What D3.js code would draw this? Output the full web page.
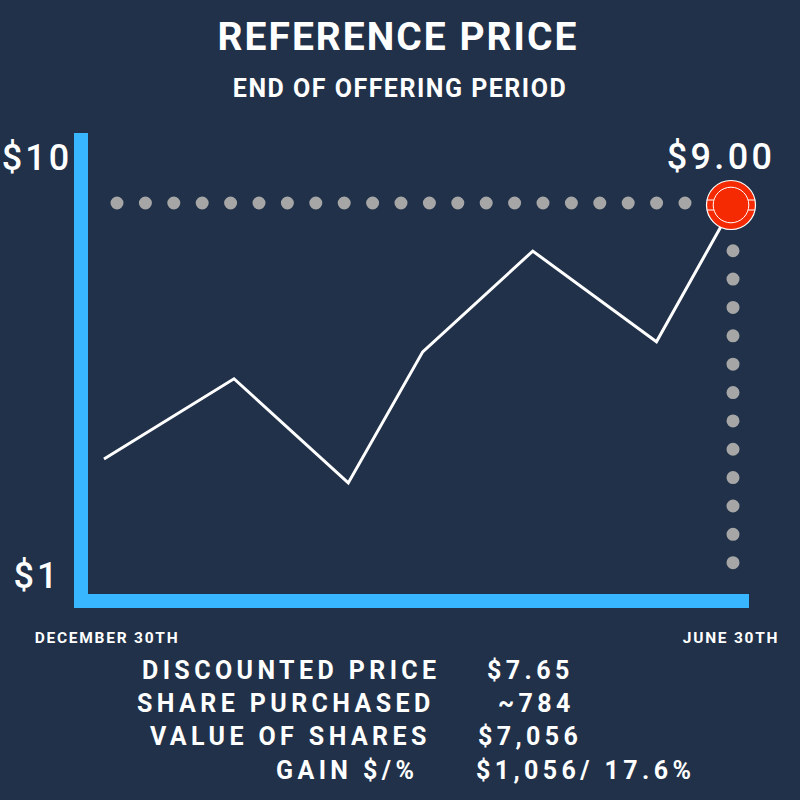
<!DOCTYPE html>
<html>
<head>
<meta charset="utf-8">
<script src="https://cdn.jsdelivr.net/npm/d3@7"></script>
<style>
  html, body { margin: 0; padding: 0; background: #203149; }
  svg { display: block; }
  text { font-family: Roboto, "Noto Sans", sans-serif; fill: #ffffff; }
</style>
</head>
<body>
<script>
// ---- Data ----
const title = "REFERENCE PRICE";
const subtitle = "END OF OFFERING PERIOD";
const monthsSinceStart = [0, 1.24, 2.33, 3.04, 4.09, 5.27, 6.0];
const prices = [3.71, 5.38, 3.21, 5.94, 8.04, 6.15, 9.0];
const xTickValues = [0, 6];
const xTickLabels = ["DECEMBER 30TH", "JUNE 30TH"];
const yTickValues = [10, 1];
const yTickLabels = ["$10", "$1"];
const endLabel = "$9.00";
const summaryLabels = ["DISCOUNTED PRICE", "SHARE PURCHASED", "VALUE OF SHARES", "GAIN $/%"];
const summaryValues = ["$7.65", "~784", "$7,056", "$1,056/ 17.6%"];

// ---- Layout / style ----
const W = 800, H = 800;
const bg = "#203149", blue = "#38b6ff", red = "#f52a02", dotGray = "#a6a6a6";

const svg = d3.select("body").append("svg").attr("width", W).attr("height", H);
svg.append("rect").attr("width", W).attr("height", H).attr("fill", bg);

const x = d3.scaleLinear().domain([0, 6]).range([104, 733]);
const y = d3.scaleLinear().domain([1, 10]).range([589, 157]);

// Titles
svg.append("text").attr("x", 398).attr("y", 50).attr("text-anchor", "middle")
  .style("font-size", "39px").style("font-weight", 700).style("letter-spacing", "2px")
  .text(title);
svg.append("text").attr("x", 400).attr("y", 97).attr("text-anchor", "middle")
  .style("font-size", "25px").style("font-weight", 700).style("letter-spacing", "1.5px")
  .text(subtitle);

// Axis bars
const axisLeft = 74, axisW = 14, axisBottom = 608;
svg.append("rect").attr("x", axisLeft).attr("y", y(10) - 24)
  .attr("width", axisW).attr("height", axisBottom - (y(10) - 24)).attr("fill", blue);
svg.append("rect").attr("x", axisLeft).attr("y", axisBottom - axisW)
  .attr("width", 749 - axisLeft).attr("height", axisW).attr("fill", blue);

// Y labels
const yOffsets = [13, -1.5];
svg.selectAll(".ylab").data(yTickValues).join("text").attr("class", "ylab")
  .attr("x", 37).attr("y", (d, i) => y(d) + yOffsets[i]).attr("text-anchor", "middle")
  .style("font-size", "36px").style("font-weight", 500).style("letter-spacing", "3px")
  .text((d, i) => yTickLabels[i]);

// X labels
const xOffsets = [3, -2];
svg.selectAll(".xlab").data(xTickValues).join("text").attr("class", "xlab")
  .attr("x", (d, i) => x(d) + xOffsets[i]).attr("y", 642.5).attr("text-anchor", "middle")
  .style("font-size", "15.5px").style("font-weight", 700).style("letter-spacing", "1.75px")
  .text((d, i) => xTickLabels[i]);

// Dotted guide lines
const lastI = prices.length - 1;
const ex = x(monthsSinceStart[lastI]), ey = y(prices[lastI]);
svg.append("line").attr("x1", 117).attr("x2", ex).attr("y1", ey - 2).attr("y2", ey - 2)
  .attr("stroke", dotGray).attr("stroke-width", 13).attr("stroke-linecap", "round")
  .attr("stroke-dasharray", "0 28.4");
svg.append("line").attr("x1", ex).attr("x2", ex).attr("y1", 562.7).attr("y2", ey)
  .attr("stroke", dotGray).attr("stroke-width", 13).attr("stroke-linecap", "round")
  .attr("stroke-dasharray", "0 28.36");

// Price line
const line = d3.line().x((d, i) => x(monthsSinceStart[i])).y(d => y(d));
svg.append("path").datum(prices).attr("d", line)
  .attr("fill", "none").attr("stroke", "#ffffff").attr("stroke-width", 3)
  .attr("stroke-linejoin", "miter");

// End marker (chip)
const cx = ex - 2, cy = ey;
const chip = svg.append("g").attr("transform", `translate(${cx},${cy})`);
chip.append("circle").attr("r", 24.5).attr("fill", red).attr("stroke", "#ffffff").attr("stroke-width", 1.2);
chip.append("circle").attr("r", 17.8).attr("fill", red).attr("stroke", "#ffffff").attr("stroke-width", 1);
[-1, 1].forEach(s => {
  [-5, 5].forEach(dy => {
    const xo = Math.sqrt(24.5 * 24.5 - dy * dy), xi = Math.sqrt(17.8 * 17.8 - dy * dy);
    chip.append("line").attr("x1", s * xi).attr("x2", s * xo).attr("y1", dy).attr("y2", dy)
      .attr("stroke", "#ffffff").attr("stroke-width", 1);
  });
});

// End value label
svg.append("text").attr("x", 721).attr("y", 169).attr("text-anchor", "middle")
  .style("font-size", "36px").style("font-weight", 500).style("letter-spacing", "3.3px")
  .text(endLabel);

// Summary table
const labelX = [142, 137, 150, 276];
const valueX = [487, 498, 478, 476];
const rowY = [678.5, 712, 745, 778.5];
summaryLabels.forEach((t, i) => {
  svg.append("text").attr("x", labelX[i]).attr("y", rowY[i])
    .style("font-size", "25px").style("font-weight", 700).style("letter-spacing", "4.4px").text(t);
  svg.append("text").attr("x", valueX[i]).attr("y", rowY[i])
    .style("font-size", "25px").style("font-weight", 700).style("letter-spacing", "4.4px").text(summaryValues[i]);
});
</script>
</body>
</html>
